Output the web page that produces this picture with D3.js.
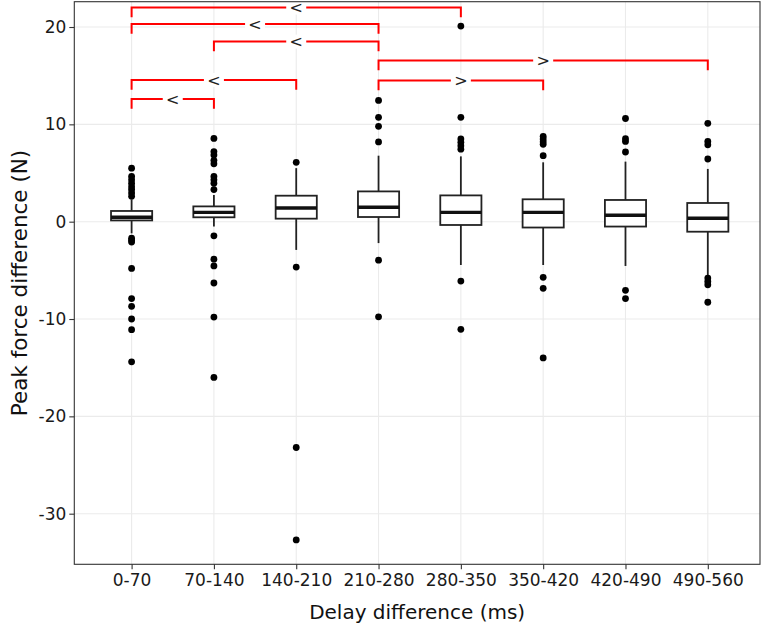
<!DOCTYPE html>
<html>
<head>
<meta charset="utf-8">
<script src="https://cdn.jsdelivr.net/npm/d3@7"></script>
<style>
  body { margin: 0; background: #fff; }
  svg { font-family: "DejaVu Sans", Verdana, sans-serif; }
</style>
</head>
<body>
<div id="chart"></div>
<script>
// -----------------------------------------------------------------------
//  Data
// -----------------------------------------------------------------------
const categories = ["0-70", "70-140", "140-210", "210-280", "280-350", "350-420", "420-490", "490-560"];

// box stats per category
const q1          = [0.13, 0.45, 0.31, 0.48, -0.34, -0.6, -0.5, -1.03];
const medians     = [0.45, 0.96, 1.41, 1.48, 0.96, 0.96, 0.66, 0.35];
const q3          = [1.1, 1.57, 2.67, 3.11, 2.7, 2.3, 2.23, 1.92];
const whiskerLow  = [-1.2, -0.5, -2.9, -2.2, -4.45, -4.45, -4.55, -5.55];
const whiskerHigh = [2.26, 2.74, 5.5, 6.78, 6.71, 6.1, 6.17, 5.42];

// outlying points per category
const outliers = [
    [5.5, 4.65, 4.3, 3.95, 3.6, 3.3, 2.95, 2.6, -1.7, -1.9, -2.1, -4.8, -7.9, -8.7, -10, -11.1, -14.4],
    [8.55, 7.2, 6.85, 6.3, 5.95, 4.65, 4.3, 3.95, 3.3, -1.45, -3.85, -4.55, -6.3, -9.8, -16],
    [6.1, -4.66, -23.2, -32.7],
    [12.46, 10.72, 9.8, 8.19, -3.95, -9.77],
    [20.1, 10.72, 8.5, 8.15, 7.8, 7.45, -6.1, -11.06],
    [8.77, 8.5, 8.2, 7.95, 6.78, -5.72, -6.85, -14],
    [10.6, 8.53, 8.25, 7.16, -7.05, -7.9],
    [10.1, 8.25, 7.9, 6.44, -5.79, -6.14, -6.48, -8.28]
];

// significance brackets: from, to, sign, level (N)
const brackets = [
    ["0-70", "280-350", "<", 22.0],
    ["0-70", "210-280", "<", 20.3],
    ["70-140", "210-280", "<", 18.5],
    ["210-280", "490-560", ">", 16.55],
    ["0-70", "140-210", "<", 14.55],
    ["210-280", "350-420", ">", 14.5],
    ["0-70", "70-140", "<", 12.6]
];
const tipLength = 1.0;

const yTicks = [-30, -20, -10, 0, 10, 20];

// -----------------------------------------------------------------------
//  Layout
// -----------------------------------------------------------------------
const width = 762, height = 629;
const panel = {left: 74.3, right: 760, top: 1.7, bottom: 564.3};

const svg = d3.select("#chart").append("svg")
    .attr("width", width)
    .attr("height", height);

const x = d3.scalePoint()
    .domain(categories)
    .range([131.6, 707.8]);

const y = d3.scaleLinear()
    .domain([-35.2, 22.6])
    .range([panel.bottom, panel.top]);

const boxW = x.step() * 0.5;

// grid
svg.append("g")
    .selectAll("line")
    .data(yTicks)
    .join("line")
    .attr("x1", panel.left).attr("x2", panel.right)
    .attr("y1", d => y(d)).attr("y2", d => y(d))
    .attr("stroke", "#ebebeb").attr("stroke-width", 1.1);

svg.append("g")
    .selectAll("line")
    .data(categories)
    .join("line")
    .attr("x1", d => x(d)).attr("x2", d => x(d))
    .attr("y1", panel.top).attr("y2", panel.bottom)
    .attr("stroke", "#ebebeb").attr("stroke-width", 1.1);

// boxes
const stats = categories.map((c, i) => ({
    cat: c, q1: q1[i], med: medians[i], q3: q3[i],
    lo: whiskerLow[i], hi: whiskerHigh[i], out: outliers[i]
}));

const boxes = svg.append("g")
    .selectAll("g")
    .data(stats)
    .join("g");

boxes.append("line")
    .attr("x1", d => x(d.cat)).attr("x2", d => x(d.cat))
    .attr("y1", d => y(d.hi)).attr("y2", d => y(d.q3))
    .attr("stroke", "#222").attr("stroke-width", 1.8);

boxes.append("line")
    .attr("x1", d => x(d.cat)).attr("x2", d => x(d.cat))
    .attr("y1", d => y(d.q1)).attr("y2", d => y(d.lo))
    .attr("stroke", "#222").attr("stroke-width", 1.8);

boxes.append("rect")
    .attr("x", d => x(d.cat) - boxW / 2)
    .attr("width", boxW)
    .attr("y", d => y(d.q3))
    .attr("height", d => y(d.q1) - y(d.q3))
    .attr("fill", "#fff")
    .attr("stroke", "#222").attr("stroke-width", 1.8);

boxes.append("line")
    .attr("x1", d => x(d.cat) - boxW / 2).attr("x2", d => x(d.cat) + boxW / 2)
    .attr("y1", d => y(d.med)).attr("y2", d => y(d.med))
    .attr("stroke", "#111").attr("stroke-width", 3.4);

boxes.selectAll("circle")
    .data(d => d.out.map(v => ({cat: d.cat, v: v})))
    .join("circle")
    .attr("cx", d => x(d.cat))
    .attr("cy", d => y(d.v))
    .attr("r", 3.4)
    .attr("fill", "#000");

// brackets
const br = svg.append("g")
    .selectAll("g")
    .data(brackets)
    .join("g");

br.append("path")
    .attr("d", d => {
        const x1 = x(d[0]), x2 = x(d[1]);
        const yl = y(d[3]), yt = y(d[3] - tipLength);
        return `M${x1},${yt}V${yl}H${x2}V${yt}`;
    })
    .attr("fill", "none")
    .attr("stroke", "#ff0000")
    .attr("stroke-width", 2);

br.append("rect")
    .attr("x", d => (x(d[0]) + x(d[1])) / 2 - 10)
    .attr("y", d => y(d[3]) - 7)
    .attr("width", 20)
    .attr("height", 14)
    .attr("fill", "#fff");

br.append("text")
    .attr("x", d => (x(d[0]) + x(d[1])) / 2)
    .attr("y", d => y(d[3]))
    .attr("dy", "0.36em")
    .attr("text-anchor", "middle")
    .attr("font-size", 16)
    .attr("fill", "#222")
    .text(d => d[2]);

// panel border
svg.append("rect")
    .attr("x", panel.left).attr("y", panel.top)
    .attr("width", panel.right - panel.left)
    .attr("height", panel.bottom - panel.top)
    .attr("fill", "none")
    .attr("stroke", "#333").attr("stroke-width", 1.1);

// axes
const xAxis = svg.append("g")
    .attr("transform", `translate(0,${panel.bottom})`)
    .call(d3.axisBottom(x).tickSize(5).tickPadding(5));

const yAxis = svg.append("g")
    .attr("transform", `translate(${panel.left},0)`)
    .call(d3.axisLeft(y).tickValues(yTicks).tickFormat(d => String(d)).tickSize(5).tickPadding(3));

[xAxis, yAxis].forEach(a => {
    a.select(".domain").remove();
    a.selectAll(".tick line").attr("stroke", "#333").attr("stroke-width", 1.1);
    a.selectAll(".tick text")
        .attr("font-family", "DejaVu Sans, Verdana, sans-serif")
        .attr("font-size", 17)
        .attr("fill", "#1a1a1a");
});

// axis titles
svg.append("text")
    .attr("x", (panel.left + panel.right) / 2)
    .attr("y", 619)
    .attr("text-anchor", "middle")
    .attr("font-size", 20)
    .attr("fill", "#111")
    .text("Delay difference (ms)");

svg.append("text")
    .attr("transform", `translate(27,${(panel.top + panel.bottom) / 2}) rotate(-90)`)
    .attr("text-anchor", "middle")
    .attr("font-size", 21.5)
    .attr("fill", "#111")
    .text("Peak force difference (N)");
</script>
</body>
</html>
